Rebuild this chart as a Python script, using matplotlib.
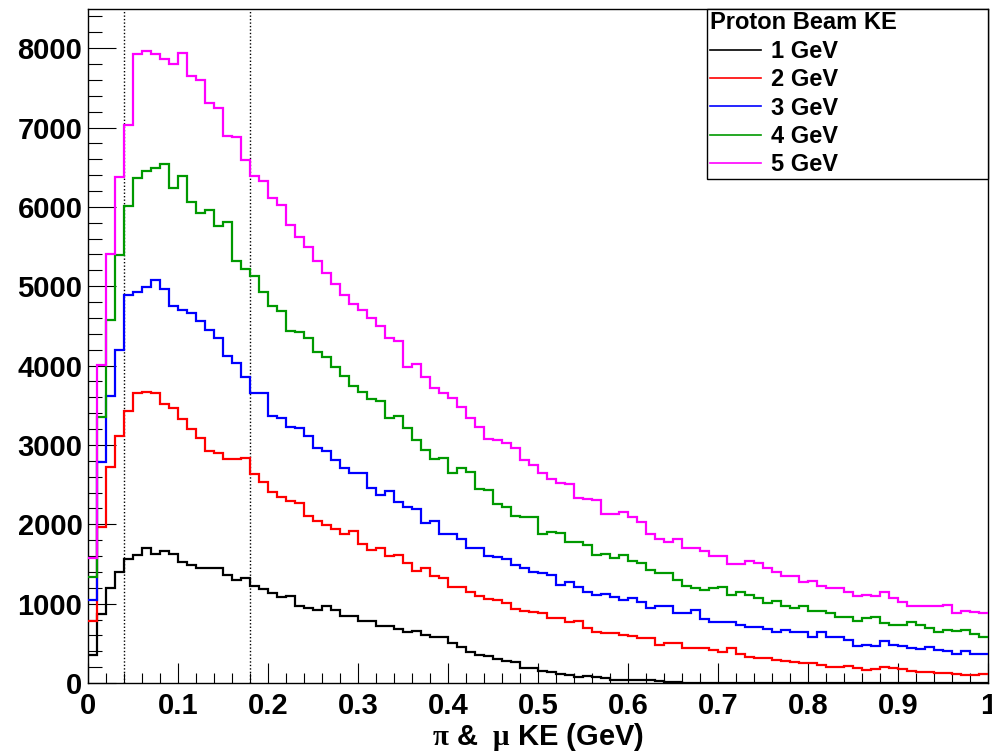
import numpy as np
import matplotlib
matplotlib.use('Agg')
import matplotlib.pyplot as plt
from matplotlib.ticker import MultipleLocator, FuncFormatter
from matplotlib.lines import Line2D

# ---------------- data ----------------
x_min, x_max, n_bins = 0.0, 1.0, 100

ke_1gev = [352, 868, 1191, 1400, 1568, 1610, 1707, 1631, 1664, 1631,
           1531, 1488, 1455, 1455, 1443, 1359, 1296, 1321, 1224, 1183,
           1140, 1078, 1098, 972, 943, 918, 965, 922, 839, 839,
           784, 784, 713, 713, 679, 638, 658, 608, 579, 579,
           499, 449, 386, 356, 344, 305, 277, 260, 185, 185,
           155, 134, 113, 101, 71, 84, 71, 59, 38, 38,
           38, 38, 38, 20, 15, 8, 5, 3, 2, 0,
           0, 0, 0, 0, 0, 0, 0, 0, 0, 0,
           0, 0, 0, 0, 0, 0, 0, 0, 0, 0,
           0, 0, 0, 0, 0, 0, 0, 0, 0, 0]

ke_2gev = [784, 1971, 2717, 3111, 3426, 3657, 3669, 3657, 3510, 3468,
           3321, 3195, 3091, 2922, 2893, 2827, 2818, 2839, 2629, 2537,
           2407, 2340, 2293, 2273, 2105, 2042, 1991, 1937, 1874, 1916,
           1749, 1677, 1698, 1602, 1614, 1518, 1413, 1455, 1350, 1329,
           1212, 1212, 1141, 1098, 1057, 1050, 1010, 930, 910, 897,
           881, 814, 814, 771, 784, 688, 646, 629, 629, 604,
           587, 562, 562, 482, 499, 499, 436, 436, 436, 419,
           394, 436, 370, 323, 315, 310, 293, 281, 260, 247,
           247, 226, 197, 197, 210, 189, 168, 176, 197, 185,
           176, 155, 143, 134, 122, 122, 113, 101, 101, 113]

ke_3gev = [1044, 2789, 3614, 4193, 4894, 4923, 4986, 5074, 4969, 4755,
           4705, 4663, 4558, 4453, 4349, 4117, 4034, 3853, 3657, 3657,
           3370, 3340, 3229, 3210, 3115, 2960, 2922, 2809, 2713, 2642,
           2642, 2453, 2373, 2419, 2281, 2223, 2189, 2013, 2042, 1874,
           1874, 1812, 1707, 1707, 1602, 1585, 1565, 1492, 1455, 1400,
           1384, 1359, 1233, 1267, 1204, 1149, 1107, 1120, 1086, 1044,
           1065, 1015, 940, 965, 965, 881, 881, 922, 805, 771,
           763, 763, 730, 711, 709, 679, 646, 667, 646, 646,
           575, 638, 575, 575, 541, 461, 482, 461, 524, 478,
           461, 440, 428, 449, 415, 407, 365, 398, 365, 365]

ke_4gev = [1337, 3350, 4579, 5397, 6005, 6369, 6453, 6495, 6538, 6236,
           6391, 6060, 5921, 5963, 5753, 5808, 5313, 5217, 5124, 4923,
           4745, 4684, 4441, 4428, 4344, 4177, 4114, 3984, 3875, 3749,
           3669, 3573, 3560, 3342, 3371, 3212, 3065, 2931, 2818, 2834,
           2651, 2705, 2658, 2449, 2428, 2250, 2223, 2105, 2092, 2092,
           1874, 1908, 1887, 1778, 1778, 1740, 1614, 1631, 1572, 1614,
           1539, 1518, 1425, 1380, 1380, 1300, 1224, 1195, 1174, 1195,
           1216, 1111, 1145, 1115, 1069, 1002, 1035, 972, 940, 972,
           910, 910, 877, 826, 826, 784, 814, 834, 755, 734,
           734, 771, 734, 688, 646, 671, 658, 671, 616, 583]

ke_5gev = [1581, 4013, 5409, 6374, 7032, 7925, 7967, 7925, 7858, 7800,
           7938, 7649, 7594, 7305, 7246, 6894, 6885, 6592, 6391, 6328,
           6118, 6026, 5770, 5615, 5489, 5313, 5166, 5028, 4885, 4776,
           4696, 4600, 4495, 4349, 4306, 3984, 4022, 3858, 3720, 3657,
           3594, 3480, 3342, 3229, 3070, 3065, 3028, 2960, 2805, 2746,
           2650, 2566, 2525, 2503, 2336, 2315, 2302, 2126, 2126, 2160,
           2092, 2029, 1874, 1820, 1778, 1812, 1707, 1707, 1664, 1602,
           1602, 1497, 1497, 1539, 1510, 1447, 1400, 1350, 1350, 1275,
           1287, 1224, 1191, 1191, 1141, 1098, 1111, 1098, 1141, 1065,
           1015, 972, 972, 972, 965, 981, 881, 910, 889, 877]

series_labels = ['1 GeV', '2 GeV', '3 GeV', '4 GeV', '5 GeV']
series_colors = ['#000000', '#ff0000', '#0000ff', '#009900', '#ff00ff']
legend_title = 'Proton Beam KE'
x_label = r'$\mathrm{\pi}$ & $\ \mathrm{\mu}$ KE (GeV)'
cut_positions = [0.04, 0.18]
y_max = 8500

# ---------------- plot ----------------
plt.rcParams['font.family'] = ['Liberation Sans', 'DejaVu Sans']
plt.rcParams['font.weight'] = 'bold'
plt.rcParams['mathtext.fontset'] = 'custom'
plt.rcParams['mathtext.rm'] = 'Liberation Serif'
plt.rcParams['mathtext.it'] = 'Liberation Serif:italic'
plt.rcParams['mathtext.bf'] = 'Liberation Serif:bold'

W, H = 992, 753
fig = plt.figure(figsize=(W / 100, H / 100), dpi=100)
ax = fig.add_axes([88 / W, 1 - 683 / H, 900 / W, (683 - 8.5) / H])

edges = np.linspace(x_min, x_max, n_bins + 1)
series = [ke_1gev, ke_2gev, ke_3gev, ke_4gev, ke_5gev]
for vals, col in zip(series, series_colors):
    ax.stairs(np.array(vals, dtype=float), edges, color=col, lw=1.6,
              baseline=None, zorder=3)

for xc in cut_positions:
    ax.axvline(xc, color='black', lw=1.0, ls=(0, (1, 1.5)), zorder=2)

ax.set_xlim(x_min, x_max)
ax.set_ylim(0, y_max)

ax.xaxis.set_major_locator(MultipleLocator(0.1))
ax.xaxis.set_minor_locator(MultipleLocator(0.02))
ax.yaxis.set_major_locator(MultipleLocator(1000))
ax.yaxis.set_minor_locator(MultipleLocator(200))
ax.xaxis.set_major_formatter(FuncFormatter(lambda v, p: '%g' % round(v, 3)))
ax.yaxis.set_major_formatter(FuncFormatter(lambda v, p: '%d' % round(v)))

ax.tick_params(axis='y', which='major', direction='in', length=20, width=0.8,
               labelsize=21, pad=4)
ax.tick_params(axis='y', which='minor', direction='in', length=10, width=0.8)
ax.tick_params(axis='x', which='major', direction='in', length=14.5, width=0.8,
               labelsize=21, pad=6.5)
ax.tick_params(axis='x', which='minor', direction='in', length=7.2, width=0.8)
ax.tick_params(top=False, right=False, which='both')
for lab in ax.get_xticklabels() + ax.get_yticklabels():
    lab.set_fontweight('bold')

for sp in ax.spines.values():
    sp.set_linewidth(1.0)

ax.set_xlabel(x_label, fontsize=21, fontweight='bold', labelpad=0.5)

handles = [Line2D([], [], color=c, lw=1.2) for c in series_colors]
leg = ax.legend(handles, series_labels, title=legend_title,
                loc='upper left', bbox_to_anchor=(0.688, 1.0, 0.3115, 0.0),
                mode='expand', alignment='left',
                prop={'size': 17, 'weight': 'bold'},
                title_fontproperties={'size': 17, 'weight': 'bold'},
                frameon=True, fancybox=False, shadow=False, framealpha=1,
                edgecolor='black', borderaxespad=0, borderpad=0.12,
                handlelength=2.15, handletextpad=0.45, labelspacing=0.23)
leg.get_frame().set_linewidth(1.0)
leg.set_zorder(5)

fig.savefig('out.png', dpi=100)
